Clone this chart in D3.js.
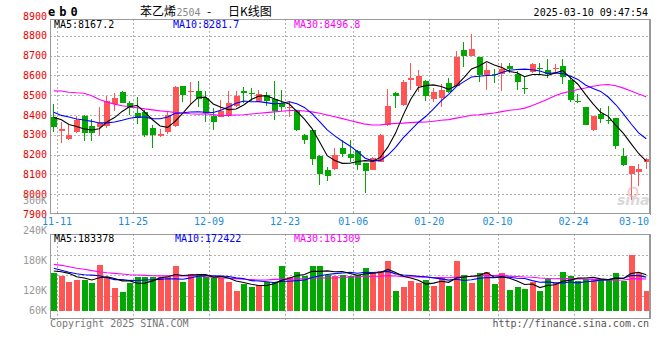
<!DOCTYPE html>
<html>
<head>
<meta charset="utf-8">
<script src="https://cdn.jsdelivr.net/npm/d3@7"></script>
<style>
  body { margin: 0; background: #fff; }
  text { font-family: "DejaVu Sans Mono", monospace; font-size: 10px; }
</style>
</head>
<body>
<script>
// trading days, 2024-11-11 .. 2025-03-10
const dates = [
  "11-11","11-12","11-13","11-14","11-15","11-18","11-19","11-20","11-21","11-22",
  "11-25","11-26","11-27","11-28","11-29","12-02","12-03","12-04","12-05","12-06",
  "12-09","12-10","12-11","12-12","12-13","12-16","12-17","12-18","12-19","12-20",
  "12-23","12-24","12-25","12-26","12-27","12-30","12-31","01-02","01-03","01-06",
  "01-07","01-08","01-09","01-10","01-13","01-14","01-15","01-16","01-17","01-20",
  "01-21","01-22","01-23","01-24","01-27","02-05","02-06","02-07","02-10","02-11",
  "02-12","02-13","02-14","02-17","02-18","02-19","02-20","02-21","02-24","02-25",
  "02-26","02-27","02-28","03-03","03-04","03-05","03-06","03-07","03-10"
];

const open = [
  8389,8320,8278,8316,8396,8345,8339,8342,8456,8517,
  8460,8409,8413,8334,8296,8313,8345,8544,8517,8520,
  8485,8396,8392,8396,8443,8519,8510,8473,8502,8480,
  8463,8436,8421,8300,8322,8194,8123,8126,8232,8204,
  8216,8160,8123,8165,8347,8510,8451,8578,8544,8574,
  8482,8485,8564,8547,8726,8696,8691,8600,8608,8608,
  8648,8608,8534,8615,8635,8628,8630,8648,8578,8470,
  8440,8322,8406,8377,8386,8194,8103,8110,8162
];
const high = [
  8456,8367,8350,8396,8400,8379,8438,8494,8512,8520,
  8473,8490,8426,8350,8330,8418,8545,8548,8569,8573,
  8519,8435,8477,8522,8522,8541,8536,8527,8514,8574,
  8524,8472,8426,8305,8325,8197,8137,8232,8275,8275,
  8224,8160,8190,8303,8531,8514,8578,8662,8625,8578,
  8536,8558,8586,8721,8768,8810,8691,8662,8632,8662,
  8662,8620,8594,8665,8662,8682,8657,8682,8595,8505,
  8440,8396,8435,8446,8386,8234,8143,8152,8182
];
const low = [
  8316,8261,8275,8310,8271,8271,8295,8332,8418,8460,
  8401,8355,8288,8232,8288,8305,8340,8468,8451,8440,
  8367,8325,8389,8389,8440,8463,8472,8468,8446,8376,
  8418,8389,8317,8254,8149,8044,8069,8124,8190,8165,
  8123,8005,8120,8162,8345,8435,8446,8524,8514,8473,
  8468,8438,8512,8544,8640,8696,8569,8524,8561,8519,
  8611,8524,8505,8611,8603,8586,8616,8557,8468,8463,
  8347,8318,8362,8355,8227,8140,7971,8042,8126
];
const close = [
  8337,8328,8300,8376,8308,8311,8359,8472,8485,8463,
  8435,8384,8300,8298,8305,8401,8541,8500,8522,8480,
  8409,8367,8418,8463,8494,8510,8505,8505,8473,8418,
  8440,8441,8322,8275,8179,8103,8094,8199,8204,8182,
  8148,8115,8185,8300,8446,8497,8569,8586,8595,8494,
  8517,8527,8514,8691,8696,8734,8600,8628,8604,8632,
  8633,8569,8530,8657,8632,8608,8635,8591,8477,8466,
  8350,8396,8379,8374,8241,8145,8140,8128,8179
];
const volume = [
  195000,178000,150000,160000,158000,145000,235000,172000,118000,99000,
  145000,175000,175000,175000,175000,175000,230000,150000,189000,184000,
  175000,167000,167000,150000,104000,138000,124000,133000,150000,150000,
  230000,172000,201000,179000,230000,230000,184000,180000,184000,180000,
  184000,221000,195000,204000,257000,104000,124000,155000,145000,158000,
  129000,170000,129000,257000,184000,145000,192000,201000,139000,195000,
  107000,124000,112000,150000,104000,162000,141000,201000,180000,155000,
  163000,158000,163000,163000,192000,153000,284000,195000,102000
];

// moving-average values before enough history is in the window
const priceMa5Head = [8388, 8376, 8352, 8342];
const priceMa10Head = [8414, 8398, 8390, 8380, 8375, 8368, 8360, 8360, 8365];
const priceMa30Head = [
  8522,8521,8515,8512,8510,8497,8478,8465,8455,8447,
  8442,8437,8431,8426,8421,8418,8412,8409,8406,8404,
  8407,8402,8396,8398,8400,8401,8405,8409,8412
];
const volMa5Head = [204000, 200000, 192000, 175000];
const volMa10Head = [218000, 208000, 198000, 190000, 185000, 183000, 180000, 170000, 160000];
const volMa30Head = [
  238000,233000,226000,218000,213000,206000,200000,195000,192000,189000,
  185000,184000,182000,180000,179000,179000,179000,179000,179000,179000,
  175000,172000,169000,167000,165000,162000,160000,158000,158000
];

const tickDates = ["11-11","11-25","12-09","12-23","01-06","01-20","02-10","02-24","03-10"];
const priceTicks = [8900,8800,8700,8600,8500,8400,8300,8200,8100,8000,7900];
const volTicks = [300000,240000,180000,120000,60000];
const volTickText = ["300K","240K","180K","120K","60K"];
const priceMaText = ["MA5:8167.2", "MA10:8281.7", "MA30:8496.8"];
const volMaText = ["MA5:183378", "MA10:172422", "MA30:161309"];
const maColors = ["#000", "#0000ff", "#ff00ff"];

const width = 660, height = 360;
const left = 50, right = 649.5;
const top1 = 19, bottom1 = 213.5;
const top2 = 234, bottom2 = 318;

const UP = "#ff5555", DOWN = "#00a800", GRID = "#b0b0b0", BORDER = "#999";

const svg = d3.select("body").append("svg")
  .attr("width", width)
  .attr("height", height);

const x = d3.scaleBand().domain(dates).range([49.5, 649.5]);
const cx = d => x(d) + x.step() / 2;
const y = d3.scaleLinear([7900, 8900], [214, 16]);
const yv = d3.scaleLinear([0, 400000], [311, 232.6]);
const yvLabel = d3.scaleLinear([60000, 300000], [320.7, 200.7]).clamp(false);

function ma(values, n, head) {
  return values.map((v, i) => i < n - 1 ? head[i] : d3.mean(values.slice(i - n + 1, i + 1)));
}

const candles = dates.map((d, i) => ({
  date: d, o: open[i], h: high[i], l: low[i], c: close[i], v: volume[i]
}));

// ---- grid ----
const grid = svg.append("g")
  .attr("stroke", GRID)
  .attr("stroke-dasharray", "2,2")
  .attr("shape-rendering", "crispEdges");

grid.selectAll("line.h")
  .data(priceTicks.filter(p => p > 7900 && p < 8900))
  .join("line")
    .attr("x1", left).attr("x2", right)
    .attr("y1", p => Math.round(y(p)) + 0.5)
    .attr("y2", p => Math.round(y(p)) + 0.5);

grid.selectAll("line.v")
  .data(tickDates.slice(0, -1))
  .join("line")
    .attr("x1", d => Math.round(x(d) + x.step()) + 0.5)
    .attr("x2", d => Math.round(x(d) + x.step()) + 0.5)
    .attr("y1", top1).attr("y2", bottom1);

const volGrid = svg.append("g")
  .attr("stroke", GRID)
  .attr("stroke-dasharray", "2,2")
  .attr("shape-rendering", "crispEdges");

volGrid.selectAll("line.h")
  .data([1, 2, 3])
  .join("line")
    .attr("x1", left).attr("x2", right)
    .attr("y1", k => Math.round(top2 + k * 20.5) + 0.5)
    .attr("y2", k => Math.round(top2 + k * 20.5) + 0.5);

volGrid.selectAll("line.v")
  .data(tickDates.slice(0, -1))
  .join("line")
    .attr("x1", d => Math.round(x(d) + x.step()) + 0.5)
    .attr("x2", d => Math.round(x(d) + x.step()) + 0.5)
    .attr("y1", top2).attr("y2", bottom2 + 2);

// ---- candles ----
const bw = 6;
const cg = svg.append("g").attr("shape-rendering", "crispEdges");

cg.selectAll("line")
  .data(candles)
  .join("line")
    .attr("x1", d => Math.round(cx(d.date) - bw / 2) + 3.5)
    .attr("x2", d => Math.round(cx(d.date) - bw / 2) + 3.5)
    .attr("y1", d => y(d.h))
    .attr("y2", d => y(d.l))
    .attr("stroke", d => d.c >= d.o ? UP : DOWN);

cg.selectAll("rect")
  .data(candles)
  .join("rect")
    .attr("x", d => Math.round(cx(d.date) - bw / 2) + 1)
    .attr("width", bw)
    .attr("y", d => y(Math.max(d.o, d.c)))
    .attr("height", d => Math.max(1, Math.abs(y(d.o) - y(d.c))))
    .attr("fill", d => d.c >= d.o ? UP : DOWN);

// ---- volume bars ----
svg.append("g").attr("shape-rendering", "crispEdges")
  .selectAll("rect")
  .data(candles)
  .join("rect")
    .attr("x", d => Math.round(cx(d.date) - bw / 2) + 1)
    .attr("width", bw)
    .attr("y", d => yv(d.v))
    .attr("height", d => yv(0) - yv(d.v))
    .attr("fill", d => d.c >= d.o ? UP : DOWN);

// ---- moving averages ----
const priceMas = [ma(close, 5, priceMa5Head), ma(close, 10, priceMa10Head), ma(close, 30, priceMa30Head)];
const volMas = [ma(volume, 5, volMa5Head), ma(volume, 10, volMa10Head), ma(volume, 30, volMa30Head)];

const priceLine = d3.line().x((v, i) => cx(dates[i]) + 0.5).y(v => y(v));
const volLine = d3.line().x((v, i) => cx(dates[i]) + 0.5).y(v => yv(v));

svg.append("g").selectAll("path")
  .data(priceMas.slice().reverse())
  .join("path")
    .attr("d", priceLine)
    .attr("fill", "none")
    .attr("stroke", (s, i) => maColors[2 - i])
    .attr("stroke-width", 1.1);

svg.append("g").selectAll("path")
  .data(volMas.slice().reverse())
  .join("path")
    .attr("d", volLine)
    .attr("fill", "none")
    .attr("stroke", (s, i) => maColors[2 - i])
    .attr("stroke-width", 1.1);

// sina watermark
const wm = svg.append("g").attr("opacity", 0.55);
wm.append("circle").attr("cx", 633).attr("cy", 192).attr("r", 4.5)
  .attr("fill", "none").attr("stroke", "#f6a0a0").attr("stroke-width", 2);
wm.append("text").attr("x", 617).attr("y", 205)
  .style("font-family", "DejaVu Sans").style("font-size", "14px")
  .style("font-style", "italic").style("font-weight", "bold")
  .attr("fill", "#bbb").text("sina");

// ---- borders ----
const border = svg.append("g")
  .attr("fill", "none").attr("stroke", BORDER)
  .attr("shape-rendering", "crispEdges");
border.append("rect").attr("x", 50.5).attr("y", top1 + 0.5)
  .attr("width", 599).attr("height", bottom1 - top1 - 0.5);
border.append("line").attr("x1", 650.5).attr("x2", 650.5).attr("y1", top1).attr("y2", bottom1 + 1);
border.append("rect").attr("x", 50.5).attr("y", top2 + 0.5)
  .attr("width", 599).attr("height", bottom2 - top2);
border.append("line").attr("x1", 650.5).attr("x2", 650.5).attr("y1", top2).attr("y2", bottom2 + 1);

// ---- axis labels ----
svg.append("g").selectAll("text")
  .data(priceTicks)
  .join("text")
    .attr("x", 47)
    .attr("y", p => y(p) + 3.5)
    .attr("text-anchor", "end")
    .attr("fill", "#e00")
    .text(p => p);

svg.append("g").selectAll("text")
  .data(volTicks)
  .join("text")
    .attr("x", 47)
    .attr("y", v => Math.min(yvLabel(v), 310.7) + 3.5)
    .attr("text-anchor", "end")
    .attr("fill", "#999")
    .text((v, i) => volTickText[i]);

svg.append("g").selectAll("text")
  .data(tickDates)
  .join("text")
    .attr("x", d => Math.min(x(d) + x.step(), 649 - 15))
    .attr("y", 224.5)
    .attr("text-anchor", "middle")
    .attr("fill", "#1a8cdc")
    .text(d => d);

// ---- legends ----
const maX = [54, 173, 294];
svg.append("g").selectAll("text")
  .data(priceMaText)
  .join("text")
    .attr("x", (t, i) => maX[i])
    .attr("y", 27.5)
    .attr("fill", (t, i) => maColors[i])
    .text(t => t);

svg.append("g").selectAll("text")
  .data(volMaText)
  .join("text")
    .attr("x", (t, i) => [54, 175, 294][i])
    .attr("y", 241.5)
    .attr("fill", (t, i) => maColors[i])
    .text(t => t);

// ---- header ----
svg.append("text")
  .attr("x", 48).attr("y", 16)
  .style("font-size", "12px").style("font-weight", "bold")
  .style("letter-spacing", "4px")
  .text("eb0");

const title = svg.append("text")
  .attr("y", 16)
  .style("font-family", "'Noto Sans CJK SC', sans-serif")
  .style("font-size", "12px");
title.append("tspan").attr("x", 140).text("苯乙烯");
title.append("tspan").attr("x", 176.5).attr("fill", "#888")
  .style("font-family", "'DejaVu Sans Mono', monospace").style("font-size", "10px")
  .text("2504");
title.append("tspan").attr("x", 207).text("-");
title.append("tspan").attr("x", 228).text("日K线图");

svg.append("text")
  .attr("x", 648).attr("y", 15.5)
  .attr("text-anchor", "end")
  .text("2025-03-10 09:47:54");

// ---- footer ----
svg.append("text")
  .attr("x", 50).attr("y", 326.5)
  .attr("fill", "#777")
  .text("Copyright 2025 SINA.COM");

svg.append("text")
  .attr("x", 649).attr("y", 326.5)
  .attr("text-anchor", "end")
  .attr("fill", "#555")
  .text("http://finance.sina.com.cn");
</script>
</body>
</html>
